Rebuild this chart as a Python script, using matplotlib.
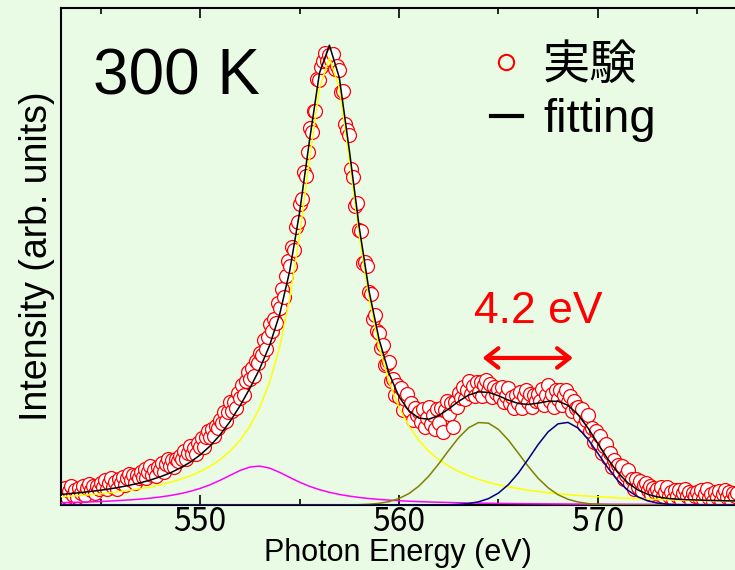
import numpy as np
import matplotlib.pyplot as plt
from matplotlib.lines import Line2D

# measured spectrum, 543.0 - 577.0 eV every 0.1 eV
e_data = np.round(np.arange(543.0, 577.05, 0.1), 1)
i_data = [
    3.2, 2.3, 3.8, 1.8, 3.0, 4.2, 2.2, 3.2, 1.7, 3.8,          # 543
    2.7, 4.2, 2.2, 3.8, 4.6, 3.2, 4.2, 2.6, 4.1, 3.5,          # 544
    4.8, 3.9, 5.5, 3.5, 4.7, 6.0, 4.0, 5.0, 3.6, 5.7,          # 545
    4.7, 6.2, 4.3, 5.9, 6.8, 5.4, 6.5, 4.9, 6.5, 5.9,          # 546
    7.1, 6.2, 7.8, 5.9, 7.1, 8.5, 6.6, 7.6, 6.3, 8.4,          # 547
    7.6, 9.1, 7.3, 9.0, 10.0, 8.6, 9.8, 8.3, 10.1, 9.6,        # 548
    10.8, 10.0, 11.8, 10.0, 11.4, 12.9, 11.2, 12.4, 11.2, 13.5,  # 549
    12.6, 14.7, 12.7, 14.9, 16.2, 14.8, 16.5, 15.0, 17.2, 16.9,  # 550
    18.6, 17.9, 20.4, 18.4, 20.4, 22.5, 20.6, 22.5, 21.2, 24.5,  # 551
    23.3, 26.3, 24.1, 27.1, 29.0, 27.5, 29.9, 28.2, 31.4, 31.1,  # 552
    33.2, 32.7, 36.0, 34.0, 36.7, 39.5, 37.9, 40.6, 39.7, 44.0,  # 553
    43.0, 47.2, 45.4, 49.9, 53.2, 52.1, 56.3, 55.6, 60.6, 61.7,  # 554
    65.7, 66.7, 72.8, 71.8, 77.1, 82.4, 81.4, 86.1, 86.0, 93.0,  # 555
    92.8, 95.6, 97.0, 98.6, 96.9, 98.2, 97.1, 98.4, 95.2, 95.8,  # 556
    95.0, 90.2, 90.3, 83.1, 81.9, 80.8, 73.4, 71.7, 65.2, 66.0,  # 557
    60.1, 59.8, 52.9, 53.1, 52.1, 46.5, 46.1, 40.5, 41.4, 38.0,  # 558
    37.5, 34.3, 35.0, 30.6, 30.8, 31.3, 27.1, 27.4, 24.1, 26.2,  # 559
    23.5, 25.5, 20.8, 23.2, 24.2, 20.7, 22.3, 18.5, 21.2, 19.6,  # 560
    20.2, 18.1, 21.0, 17.0, 19.1, 21.5, 17.6, 19.6, 16.7, 20.9,  # 561
    18.0, 21.1, 15.9, 20.7, 22.6, 19.9, 22.2, 17.0, 22.5, 21.4,  # 562
    24.5, 23.3, 25.8, 23.1, 25.0, 27.1, 24.3, 25.9, 23.7, 26.8,  # 563
    24.7, 26.9, 23.7, 26.1, 27.3, 24.9, 26.4, 23.5, 25.8, 24.5,  # 564
    25.4, 23.6, 25.8, 22.4, 23.9, 25.6, 22.3, 23.6, 21.1, 24.1,  # 565
    22.3, 24.7, 21.1, 23.7, 25.2, 22.5, 24.3, 21.3, 24.0, 22.8,  # 566
    24.3, 22.6, 25.4, 21.9, 24.0, 26.1, 22.6, 24.2, 21.5, 25.1,  # 567
    23.1, 25.2, 21.8, 24.0, 25.1, 22.5, 23.7, 20.6, 22.6, 21.1,  # 568
    21.5, 19.4, 21.0, 17.4, 18.5, 19.7, 16.1, 16.8, 13.8, 16.1,  # 569
    13.4, 15.0, 11.3, 12.8, 13.3, 10.3, 11.3, 8.2, 9.9, 8.2,     # 570
    8.8, 7.2, 8.5, 5.7, 6.5, 7.6, 4.9, 5.7, 3.5, 5.6,            # 571
    4.0, 5.2, 3.0, 4.3, 4.9, 3.3, 4.1, 2.3, 3.7, 2.9,            # 572
    3.6, 2.5, 3.9, 1.9, 2.9, 4.0, 2.0, 2.9, 1.3, 3.3,            # 573
    1.9, 3.3, 1.2, 2.7, 3.5, 2.0, 2.9, 1.2, 2.7, 2.0,            # 574
    2.8, 1.8, 3.3, 1.3, 2.3, 3.5, 1.5, 2.4, 0.9, 2.9,            # 575
    1.7, 3.1, 1.1, 2.5, 3.3, 1.8, 2.8, 1.1, 2.6, 1.9,            # 576
    2.6,                                                         # 577
]

# fit components, 543.0 - 577.0 eV every 0.5 eV
e_fit = np.arange(543.0, 577.01, 0.5)
main_peak = [
    1.80, 1.94, 2.09, 2.27, 2.46, 2.68, 2.94, 3.23, 3.57, 3.96,
    4.41, 4.95, 5.60, 6.37, 7.31, 8.47, 9.92, 11.75, 14.11, 17.20,
    21.31, 26.89, 34.54, 45.00, 58.90, 75.54, 90.96, 97.60, 90.96, 75.54,
    58.90, 45.00, 34.54, 26.89, 21.31, 17.20, 14.11, 11.75, 9.92, 8.47,
    7.31, 6.37, 5.60, 4.95, 4.41, 3.96, 3.57, 3.23, 2.94, 2.68,
    2.46, 2.27, 2.09, 1.94, 1.80, 1.67, 1.56, 1.46, 1.37, 1.29,
    1.21, 1.14, 1.08, 1.02, 0.97, 0.92, 0.87, 0.83, 0.79,
]
pre_peak = [
    0.51, 0.56, 0.62, 0.69, 0.77, 0.87, 0.99, 1.13, 1.29, 1.50,
    1.76, 2.07, 2.47, 2.98, 3.62, 4.42, 5.39, 6.47, 7.52, 8.29,
    8.49, 8.04, 7.12, 6.03, 4.98, 4.08, 3.35, 2.77, 2.30, 1.94,
    1.65, 1.41, 1.22, 1.07, 0.94, 0.83, 0.74, 0.66, 0.60, 0.54,
    0.49, 0.45, 0.41, 0.38, 0.35, 0.32, 0.30, 0.28, 0.26, 0.24,
    0.23, 0.21, 0.20, 0.19, 0.18, 0.17, 0.16, 0.15, 0.14, 0.14,
    0.13, 0.12, 0.12, 0.11, 0.11, 0.10, 0.10, 0.09, 0.09,
]
sat1 = [0.0] * 28 + [
    0.01, 0.03, 0.07, 0.17, 0.36, 0.74, 1.42, 2.50, 4.12, 6.31,
    9.00, 11.92, 14.70, 16.86, 18.00, 17.87, 16.50, 14.18, 11.33, 8.43,
    5.83, 3.75, 2.24, 1.25, 0.65, 0.31, 0.14, 0.06, 0.02, 0.01,
] + [0.0] * 11
sat2 = [0.0] * 37 + [
    0.01, 0.02, 0.05, 0.13, 0.31, 0.69, 1.39, 2.60, 4.44, 6.96,
    10.01, 13.21, 15.97, 17.72, 18.03, 16.82, 14.40, 11.30, 8.14, 5.37,
    3.25, 1.81, 0.92, 0.43, 0.18, 0.07, 0.03, 0.01,
] + [0.0] * 4
fit_total = np.array(main_peak) + np.array(pre_peak) + np.array(sat1) + np.array(sat2)

bg = '#e9fbe5'
fig = plt.figure(figsize=(7.35, 5.7), dpi=100, facecolor=bg)
ax = fig.add_axes([61 / 735, 65 / 570, 674 / 735, 497 / 570], facecolor=bg)

ax.plot(e_data, i_data, ls='none', marker='o', ms=10, mfc='white',
        mec='red', mew=0.9, zorder=2)
ax.plot(e_fit, main_peak, color='#ffff00', lw=1.1, zorder=3)
ax.plot(e_fit, pre_peak, color='#ff00ff', lw=1.1, zorder=3)
ax.plot(e_fit, sat1, color='#808000', lw=1.1, zorder=3)
ax.plot(e_fit, sat2, color='#000080', lw=1.1, zorder=3)
ax.plot(e_fit, fit_total, color='black', lw=1.1, zorder=4)

ax.set_xlim(543.0, 576.9)
ax.set_ylim(0, 108.5)
ax.set_xticks([550, 560, 570])
ax.set_xticks([545, 555, 565, 575], minor=True)
ax.set_yticks([])
ax.tick_params(axis='x', which='both', direction='in', top=True, width=1.2,
               labelsize=23, pad=1)
ax.tick_params(axis='x', which='major', length=7)
ax.tick_params(axis='x', which='minor', length=4)
for lab in ax.get_xticklabels():
    lab.set_family(['Noto Sans CJK JP'])
ax.spines['right'].set_visible(False)
for s in ['left', 'bottom', 'top']:
    ax.spines[s].set_linewidth(1.5)

ax.set_xlabel('Photon Energy (eV)', family=['Liberation Sans'], fontsize=22,
              labelpad=0)
ax.set_ylabel('Intensity (arb. units)', family=['Liberation Sans'], fontsize=27,
              labelpad=4)

ax.text(0.047, 0.825, '300 K', transform=ax.transAxes, fontsize=46,
        family=['Liberation Sans'], va='baseline')

ax.text(567.0, 39.8, '4.2 eV', color='red', fontsize=32,
        family=['Liberation Sans'], ha='center', va='baseline')
ax.annotate('', xy=(568.75, 32.1), xytext=(564.2, 32.1),
            arrowprops=dict(arrowstyle='<->,head_length=0.45,head_width=0.35',
                            color='red', lw=3, shrinkA=0, shrinkB=0,
                            mutation_scale=20))

handles = [Line2D([], [], ls='none', marker='o', ms=11, mfc='none', mec='red', mew=1.5),
           Line2D([], [], color='black', lw=3)]
ax.legend(handles, ['実験', 'fitting'], loc='upper left',
          bbox_to_anchor=((491 - 61) / 674, (505 - 45) / 497),
          frameon=False, borderpad=0, borderaxespad=0, handlelength=0.65,
          handletextpad=0.45, labelspacing=0.2,
          prop={'family': ['Liberation Sans', 'Noto Sans CJK JP'], 'size': 34})

fig.savefig('out.png', dpi=100, facecolor=bg)
